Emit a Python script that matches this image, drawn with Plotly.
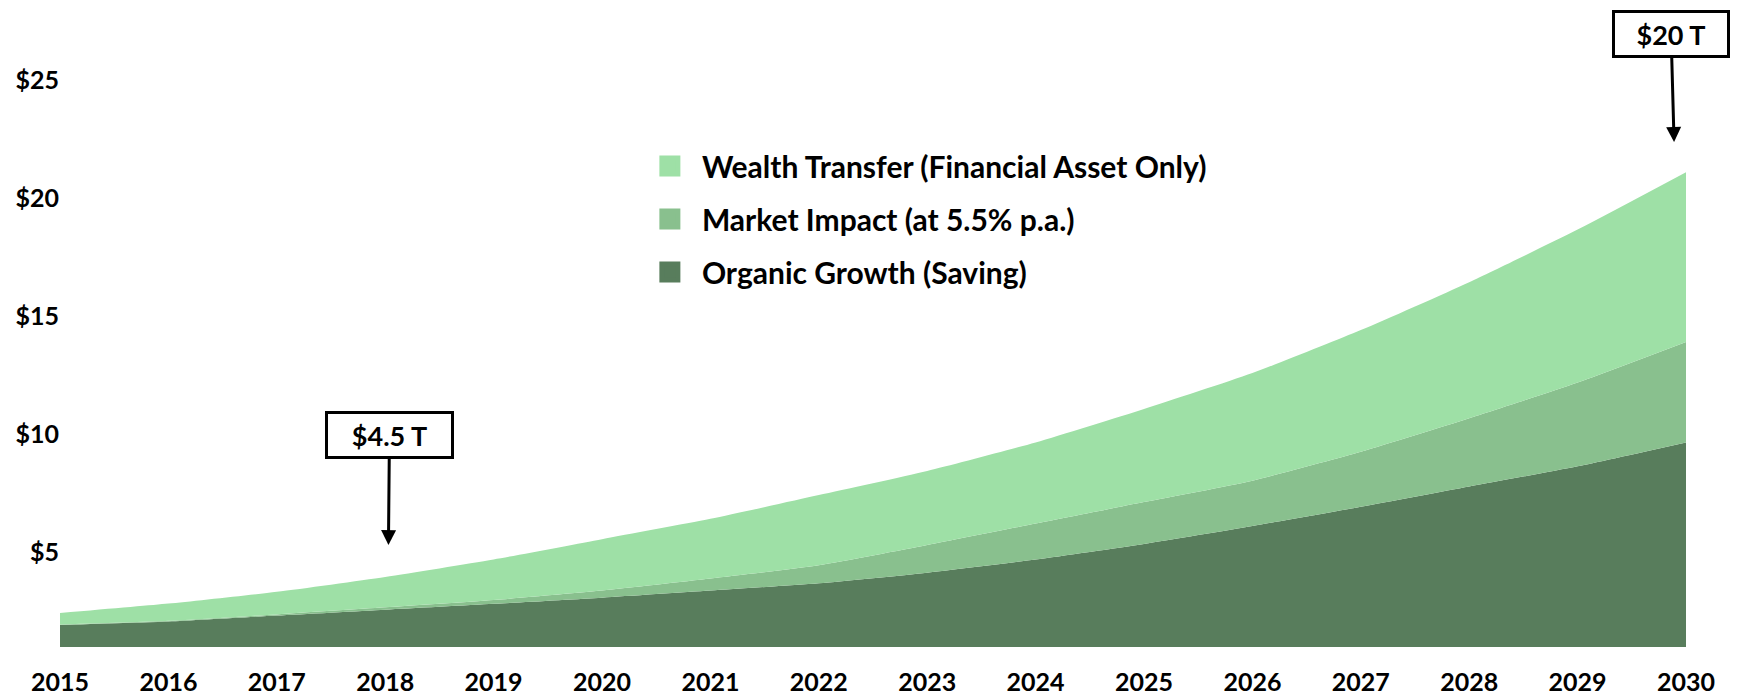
import plotly.graph_objects as go

YEARS = list(range(2015, 2031))
# layer amounts ($ trillion)
ORGANIC = [1.9, 2.05, 2.3, 2.55, 2.8, 3.06, 3.36, 3.67, 4.12, 4.68, 5.34, 6.1, 6.91, 7.77, 8.63, 9.64]
MARKET = [0.02, 0.03, 0.05, 0.1, 0.16, 0.3, 0.51, 0.76, 1.17, 1.52, 1.77, 1.92, 2.33, 2.89, 3.55, 4.26]
WEALTH = [0.49, 0.73, 0.96, 1.29, 1.72, 2.18, 2.53, 2.98, 3.14, 3.44, 3.95, 4.56, 5.16, 5.77, 6.48, 7.19]

SERIES_NAMES = ["Organic Growth (Saving)", "Market Impact (at 5.5% p.a.)",
                "Wealth Transfer (Financial Asset Only)"]
COLORS = ["#587D5C", "#89C08E", "#9EE0A6"]

Y_TICKS = [5, 10, 15, 20, 25]
Y_LABELS = ["$5", "$10", "$15", "$20", "$25"]
CALLOUTS = [("$4.5 T", 3), ("$20 T", 15)]

FONT = "Lato, 'Open Sans', sans-serif"

fig = go.Figure()
for name, vals, col in zip(SERIES_NAMES, [ORGANIC, MARKET, WEALTH], COLORS):
    fig.add_trace(go.Scatter(
        x=YEARS, y=vals, name=name, stackgroup="one", mode="none",
        fillcolor=col, line=dict(width=0, shape="spline", smoothing=0.6),
        showlegend=False, hoverinfo="x+y+name"))

# legend entries (square swatches)
for i, (name, col) in enumerate(zip(SERIES_NAMES, COLORS)):
    fig.add_trace(go.Scatter(
        x=[None], y=[None], name=name, mode="markers", legendgroup=name,
        legendrank=3 - i,
        marker=dict(symbol="square", size=16, color=col, line=dict(color=col, width=5))))

totals = [a + b + c for a, b, c in zip(ORGANIC, MARKET, WEALTH)]
ann_cfg = [dict(off=1.35, ax=1, ay=-110, dx=0.03, w=119),
           dict(off=1.28, ax=-3, ay=-108.5, dx=-0.11, w=108)]
for (text, idx), cfg in zip(CALLOUTS, ann_cfg):
    fig.add_annotation(
        x=YEARS[idx] + cfg["dx"], y=totals[idx] + cfg["off"], xref="x", yref="y",
        text=f"<b>{text}</b>", showarrow=True, arrowhead=2, arrowsize=1, arrowwidth=3,
        arrowcolor="black", ax=cfg["ax"], ay=cfg["ay"],
        bordercolor="black", borderwidth=3, borderpad=2, bgcolor="white",
        width=cfg["w"], height=38, font=dict(family=FONT, size=27, color="black"))

fig.update_layout(
    width=1742, height=698,
    margin=dict(l=60, r=56, t=20, b=51, autoexpand=False),
    paper_bgcolor="white", plot_bgcolor="white",
    font=dict(family=FONT, size=25, color="black"),
    showlegend=True,
    legend=dict(x=0.3554, y=0.8086, xanchor="left", yanchor="top",
                font=dict(family=FONT, size=30, color="black", weight="bold"),
                itemwidth=54, traceorder="grouped", tracegroupgap=11,
                bgcolor="rgba(0,0,0,0)"),
    xaxis=dict(range=[2015, 2030], tickvals=YEARS, ticktext=[str(y) for y in YEARS],
               showgrid=False, zeroline=False, showline=False, ticks="",
               ticklabelstandoff=18, automargin=False,
               tickfont=dict(family=FONT, size=25, color="black", weight="bold")),
    yaxis=dict(range=[0.97, 27.54], tickvals=Y_TICKS, ticktext=Y_LABELS,
               showgrid=False, zeroline=False, showline=False, ticks="",
               automargin=False,
               tickfont=dict(family=FONT, size=25, color="black", weight="bold")),
)

fig.write_html("out.html", config={"displayModeBar": False},
               post_script="document.body.style.margin='0';document.body.style.overflow='hidden';")
